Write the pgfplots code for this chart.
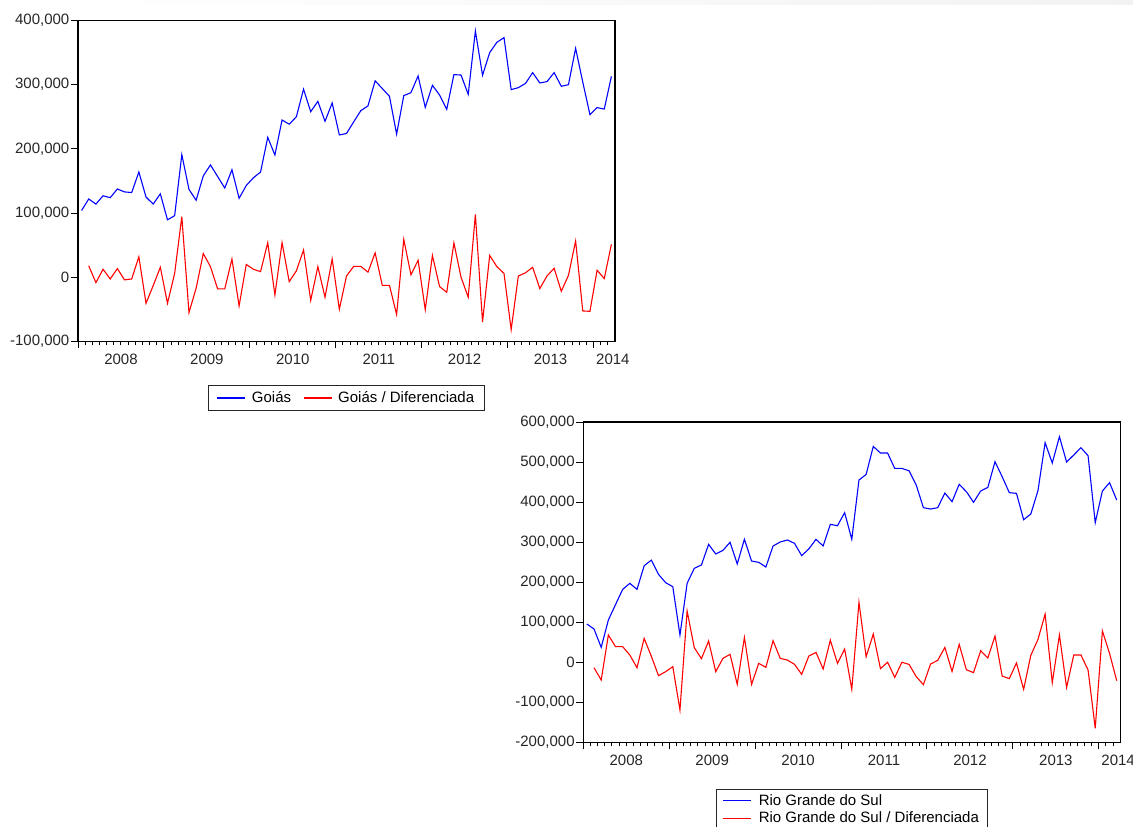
\documentclass[border=0pt]{standalone}
\usepackage{pgfplots}
\pgfplotsset{compat=1.18}
\usepackage{pgfplotstable}
\usepackage{fontspec}
\setmainfont{Liberation Sans}

% Monthly series, 2008m1 (i = 0) to 2014m3 (i = 74)
\pgfplotstableread{
i v
0 104000
1 122000
2 114000
3 127000
4 124000
5 137500
6 133000
7 132000
8 164000
9 125000
10 114000
11 130000
12 89500
13 96000
14 191000
15 137000
16 120000
17 158000
18 175000
19 157000
20 139000
21 167500
22 123000
23 143000
24 155000
25 164000
26 218000
27 190500
28 245000
29 238500
30 250000
31 293000
32 258000
33 274000
34 243000
35 271500
36 221700
37 224000
38 242000
39 259600
40 267000
41 306000
42 294000
43 282000
44 223000
45 283000
46 287600
47 313600
48 264800
49 299000
50 284000
51 261700
52 315700
53 315000
54 285000
55 383700
56 314600
57 350000
58 366000
59 373300
60 292300
61 295400
62 302000
63 318800
64 302700
65 304800
66 318800
67 297500
68 300000
69 356700
70 304000
71 253400
72 264300
73 262000
74 313000
}\goias

\pgfplotstableread{
i v
1 18000
2 -8300
3 12500
4 -2600
5 13500
6 -4000
7 -2600
8 32000
9 -40500
10 -13000
11 15600
12 -40500
13 6000
14 94500
15 -55000
16 -17000
17 37000
18 16600
19 -18000
20 -18000
21 28500
22 -44600
23 20000
24 12500
25 8800
26 54000
27 -27500
28 54000
29 -6700
30 10000
31 42500
32 -36000
33 16600
34 -31000
35 28500
36 -49800
37 2000
38 17000
39 17000
40 8000
41 38000
42 -12500
43 -12500
44 -58000
45 59000
46 4000
47 26500
48 -50400
49 34000
50 -14500
51 -23400
52 53500
53 0
54 -31000
55 98000
56 -69600
57 34000
58 16600
59 6000
60 -81500
61 2000
62 7000
63 15600
64 -17600
65 2000
66 14000
67 -21800
68 3000
69 56600
70 -52400
71 -53000
72 11000
73 -2000
74 51400
}\goiasdif

\pgfplotstableread{
i v
0 95400
1 82900
2 37100
3 105400
4 144000
5 182000
6 197000
7 182000
8 241000
9 255000
10 219500
11 198700
12 188700
13 68000
14 197000
15 234500
16 243000
17 294400
18 270300
19 279500
20 299500
21 245400
22 307000
23 252800
24 249500
25 237800
26 290300
27 300300
28 305300
29 297000
30 266300
31 283000
32 307000
33 290300
34 344400
35 341000
36 373500
37 307000
38 455000
39 469000
40 539000
41 522500
42 522500
43 484000
44 484000
45 478000
46 442600
47 386000
48 382600
49 386000
50 422600
51 401000
52 444400
53 426000
54 399400
55 427600
56 436700
57 500800
58 463400
59 423500
60 421800
61 356000
62 370200
63 428500
64 548400
65 497600
66 563300
67 500000
68 517500
69 535800
70 515800
71 348600
72 427600
73 448400
74 405000
}\rgs

\pgfplotstableread{
i v
1 -13800
2 -44500
3 68000
4 38800
5 38800
6 18000
7 -13800
8 59600
9 15000
10 -33500
11 -23600
12 -11000
13 -119300
14 128000
15 36300
16 8800
17 53000
18 -23600
19 9700
20 19700
21 -55300
22 62000
23 -55300
24 -2800
25 -12800
26 53800
27 9700
28 5500
29 -5300
30 -30300
31 15500
32 24600
33 -17000
34 55000
35 -2800
36 33000
37 -67700
38 149600
39 13800
40 70400
41 -16000
42 0
43 -37800
44 0
45 -5500
46 -36000
47 -56000
48 -4500
49 4700
50 37000
51 -23000
52 44600
53 -18800
54 -26000
55 28800
56 10500
57 65400
58 -34600
59 -41000
60 -1700
61 -67700
62 17000
63 57000
64 120000
65 -51000
66 68000
67 -63000
68 18000
69 18000
70 -19300
71 -165000
72 78000
73 22000
74 -46000
}\rgsdif

\newcommand{\lblfont}{\fontsize{15}{18}\selectfont}

\pgfplotsset{
  ev/.style={
    scale only axis,
    width=537pt,
    xmin=-0.5, xmax=74.5,
    axis line style={line width=1.2pt, black},
    xtick pos=bottom, ytick pos=left,
    tick align=outside,
    tick style={black, line width=1pt},
    major tick length=7pt,
    minor tick length=4pt,
    xtick={-0.5,11.5,23.5,35.5,47.5,59.5,71.5},
    xticklabels={},
    minor xtick={0.5,1.5,...,73.5},
    extra x ticks={5.5,17.5,29.5,41.5,53.5,65.5,74.2},
    extra x tick labels={2008,2009,2010,2011,2012,2013,2014},
    extra x tick style={major tick length=0pt,
      xticklabel style={yshift=-9pt}},
    scaled y ticks=false,
    ticklabel style={font=\lblfont, text=black!85},
    yticklabel style={inner sep=1.5pt},
    clip=true,
    legend cell align=left,
    legend image code/.code={\draw[##1] (0pt,0pt) -- (28pt,0pt);},
    legend style={font=\lblfont, draw=black!85, line width=0.8pt,
      fill=white, nodes={inner sep=2pt, text depth=0.15em}},
  },
  ser/.style={line width=1.1pt, #1},
}

\begin{document}
\begin{tikzpicture}
\clip (0pt,0pt) rectangle (1133pt,827pt);
\shade[left color=white, right color=black!5] (100pt,822pt) rectangle (1133pt,827pt);

% Goiás
\begin{axis}[ev,
  at={(78pt,485.5pt)}, anchor=south west,
  height=321pt,
  ymin=-100000, ymax=400000,
  ytick={-100000,0,100000,200000,300000,400000},
  yticklabels={{-100,000},{0},{100,000},{200,000},{300,000},{400,000}},
  legend columns=2,
  legend style={at={(0.5,-0.1365)}, anchor=north,
    inner xsep=8pt, inner ysep=4pt,
    /tikz/every odd column/.append style={column sep=4pt},
    /tikz/every even column/.append style={column sep=10pt}},
]
\addplot[ser={blue}] table[x=i, y=v] {\goias};
\addlegendentry{Goiás}
\addplot[ser={red}] table[x=i, y=v] {\goiasdif};
\addlegendentry{Goiás / Diferenciada}
\end{axis}

% Rio Grande do Sul
\begin{axis}[ev,
  at={(583.3pt,84.7pt)}, anchor=south west,
  height=320.3pt,
  ymin=-200000, ymax=600000,
  ytick={-200000,-100000,0,100000,200000,300000,400000,500000,600000},
  yticklabels={{-200,000},{-100,000},{0},{100,000},{200,000},{300,000},{400,000},{500,000},{600,000}},
  legend columns=1,
  legend style={at={(0.5,-0.1467)}, anchor=north,
    inner xsep=6pt, inner ysep=3pt, row sep=1pt,
    /tikz/every odd column/.append style={column sep=5pt}},
]
\addplot[ser={blue}] table[x=i, y=v] {\rgs};
\addlegendentry{Rio Grande do Sul}
\addplot[ser={red}] table[x=i, y=v] {\rgsdif};
\addlegendentry{Rio Grande do Sul / Diferenciada}
\end{axis}
\end{tikzpicture}
\end{document}
